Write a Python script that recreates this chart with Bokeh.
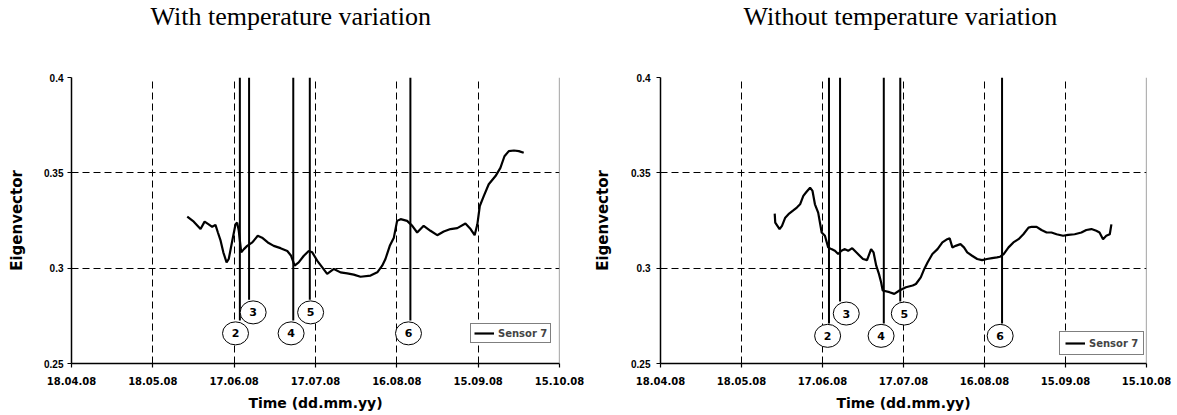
from bokeh.plotting import figure
from bokeh.models import Range1d, FixedTicker, Span, Legend, LegendItem, Title
from bokeh.layouts import row
from bokeh.embed import file_html
from bokeh.resources import INLINE
from bokeh.core.properties import value

# ---------------- data ----------------
# x values are days counted from 18.04.08
x_tick_days = [0, 30, 60, 90, 120, 150, 180]
x_tick_labels = ["18.04.08", "18.05.08", "17.06.08", "17.07.08", "16.08.08", "15.09.08", "15.10.08"]
y_ticks = [0.25, 0.3, 0.35, 0.4]
y_tick_labels = ["0.25", "0.3", "0.35", "0.4"]

titles = ["With temperature variation", "Without temperature variation"]
series_name = "Sensor 7"
x_title = "Time (dd.mm.yy)"
y_title = "Eigenvector"

with_days = [42.7, 45.1, 47.6, 49.1, 50.6, 51.9, 53.1, 54.0, 55.0, 56.0, 57.2, 58.0, 59.3, 60.5,
             61.1, 61.7, 62.6, 63.6, 64.8, 66.7, 68.7, 70.3, 72.4, 74.6, 77.1, 79.6, 81.0, 82.3,
             83.8, 85.7, 87.5, 88.8, 90.6, 92.5, 94.3, 96.8, 99.2, 101.7, 104.1, 106.6, 110.3,
             112.8, 114.6, 115.8, 117.4, 118.9, 120.1, 121.4, 123.8, 125.7, 127.5, 129.9, 132.4,
             134.9, 137.3, 139.8, 142.3, 145.3, 147.2, 148.7, 149.7, 150.6, 152.1, 153.9, 156.4,
             158.2, 159.7, 161.3, 163.2, 165.0, 166.8]
with_vals = [0.327, 0.3244, 0.3205, 0.3244, 0.323, 0.3217, 0.3227, 0.3187, 0.3144, 0.3083, 0.303,
             0.3048, 0.3144, 0.323, 0.3239, 0.3196, 0.3083, 0.31, 0.3117, 0.3135, 0.317, 0.316,
             0.3135, 0.3117, 0.3105, 0.309, 0.3065, 0.3013, 0.303, 0.3065, 0.309, 0.3083, 0.304,
             0.3004, 0.297, 0.2996, 0.2978, 0.2973, 0.2966, 0.2955, 0.2961, 0.2978, 0.3013, 0.3048,
             0.3117, 0.316, 0.3248, 0.3257, 0.3248, 0.3222, 0.3187, 0.3222, 0.3196, 0.3173, 0.3192,
             0.3205, 0.321, 0.3234, 0.3205, 0.3173, 0.323, 0.3326, 0.3379, 0.344, 0.3483, 0.3526,
             0.3587, 0.3614, 0.3617, 0.3614, 0.3605]

without_days = [42.3, 42.5, 44.1, 45.0, 46.2, 47.4, 49.3, 50.5, 51.7, 52.9, 54.1, 55.4, 56.3, 57.2,
                58.4, 59.7, 60.9, 62.1, 63.3, 64.6, 65.8, 67.0, 68.3, 69.5, 71.0, 72.5, 75.0, 76.5,
                78.0, 78.9, 79.9, 80.9, 81.7, 82.3, 84.8, 86.6, 88.5, 90.9, 93.4, 94.6, 96.4, 97.7,
                98.9, 100.7, 102.6, 104.4, 106.2, 107.1, 108.1, 109.3, 111.1, 112.4, 113.6, 115.4,
                117.3, 119.1, 120.9, 122.8, 124.6, 125.8, 127.1, 128.9, 130.7, 132.6, 134.4, 136.3,
                137.5, 139.3, 141.1, 143.0, 144.8, 146.7, 149.1, 151.0, 153.4, 155.9, 157.7, 159.6,
                161.4, 162.6, 163.9, 165.1, 166.4, 167.0]
without_vals = [0.3286, 0.3239, 0.3205, 0.3222, 0.3265, 0.3283, 0.3304, 0.3318, 0.3335, 0.3379,
                0.3401, 0.3422, 0.3405, 0.3335, 0.3291, 0.3187, 0.317, 0.3109, 0.31, 0.3091, 0.3074,
                0.3091, 0.31, 0.3091, 0.3105, 0.3083, 0.3048, 0.3042, 0.31, 0.3083, 0.3013, 0.297,
                0.2926, 0.2883, 0.2874, 0.2865, 0.2883, 0.29, 0.2909, 0.2917, 0.2952, 0.2996, 0.303,
                0.3074, 0.31, 0.3135, 0.3152, 0.3157, 0.3109, 0.3117, 0.3126, 0.3109, 0.3083, 0.3065,
                0.3048, 0.3042, 0.3048, 0.3053, 0.3057, 0.306, 0.3074, 0.3109, 0.3135, 0.3152,
                0.3178, 0.3213, 0.3217, 0.3217, 0.32, 0.3187, 0.3187, 0.3178, 0.317, 0.3175, 0.3178,
                0.3187, 0.32, 0.3205, 0.3196, 0.3187, 0.3152, 0.317, 0.3178, 0.323]

event_ids = ["2", "3", "4", "5", "6"]
with_event_days = [62.1, 65.5, 81.8, 87.9, 125.0]
with_event_ends = [0.2725, 0.2835, 0.2725, 0.2835, 0.2725]
with_label_days = [60.5, 67.0, 81.0, 88.2, 124.3]
with_label_vals = [0.2658, 0.2768, 0.2658, 0.2768, 0.2658]

without_event_days = [62.4, 66.5, 82.7, 88.8, 126.5]
without_event_ends = [0.271, 0.2825, 0.271, 0.2825, 0.271]
without_label_days = [61.9, 68.8, 81.7, 90.3, 125.8]
without_label_vals = [0.2645, 0.2762, 0.2645, 0.2762, 0.2645]

BOLD = value("DejaVu Sans")


def make_chart(title, days, vals, ev_days, ev_ends, lab_days, lab_vals, width,
               bl, br, title_offset, label_standoff, title_standoff, legend_loc, legend_pad):
    p = figure(width=width, height=413, output_backend="svg", toolbar_location=None,
               x_range=Range1d(x_tick_days[0], x_tick_days[-1]),
               y_range=Range1d(y_ticks[0], y_ticks[-1]),
               min_border_left=bl, min_border_right=br, min_border_top=76, min_border_bottom=50)
    p.outline_line_color = None
    p.background_fill_color = "white"

    # blank spacer between the frame and the chart title (pushes the title to the top)
    p.add_layout(Title(text=" ", text_font_size="10px", standoff=31), "above")

    p.title.text = title
    p.title.text_font = "Liberation Serif"
    p.title.text_font_style = "normal"
    p.title.text_font_size = "26px"
    p.title.text_color = "black"
    p.title.align = "left"
    p.title.vertical_align = "top"
    p.title.offset = title_offset
    p.title.standoff = 2

    # axes
    p.xaxis.ticker = FixedTicker(ticks=x_tick_days)
    p.xaxis.major_label_overrides = {d: l for d, l in zip(x_tick_days, x_tick_labels)}
    p.yaxis.ticker = FixedTicker(ticks=y_ticks)
    p.yaxis.major_label_overrides = {v: l for v, l in zip(y_ticks, y_tick_labels)}
    for ax in (p.xaxis, p.yaxis):
        ax.axis_line_color = "black"
        ax.axis_line_width = 1.5
        ax.major_tick_line_color = "black"
        ax.major_tick_line_width = 1.2
        ax.major_tick_in = 0
        ax.major_tick_out = 4
        ax.minor_tick_line_color = None
        ax.major_label_text_font_style = "bold"
        ax.major_label_text_font_size = "10px"
        ax.major_label_text_color = "black"
        ax.axis_label_text_font = "DejaVu Sans"
        ax.axis_label_text_font_style = "bold"
        ax.axis_label_text_color = "black"
    p.xaxis.axis_label_text_font_size = "14px"
    p.yaxis.axis_label_text_font_size = "15px"
    p.xaxis.major_label_text_font = "DejaVu Sans"
    p.yaxis.major_label_text_font = "Liberation Sans"
    p.xaxis.axis_label = x_title
    p.yaxis.axis_label = y_title
    p.xaxis.major_label_standoff = 9
    p.xaxis.axis_label_standoff = 7
    p.yaxis.major_label_standoff = label_standoff
    p.yaxis.axis_label_standoff = title_standoff

    # grid
    p.xgrid.ticker = FixedTicker(ticks=x_tick_days[1:-1])
    p.ygrid.ticker = FixedTicker(ticks=y_ticks[1:])
    for g in (p.xgrid, p.ygrid):
        g.grid_line_color = "black"
        g.grid_line_dash = "7 4"
        g.grid_line_width = 1

    p.add_layout(Span(location=x_tick_days[-1], dimension="height",
                      line_color="#666666", line_width=1.2))

    # event markers
    p.segment(x0=ev_days, y0=[y_ticks[-1]] * len(ev_days), x1=ev_days, y1=ev_ends,
              line_color="black", line_width=2)
    p.ellipse(x=lab_days, y=lab_vals, width=26, height=23, width_units="screen",
              height_units="screen", fill_color="white", line_color="black", line_width=1)
    p.text(x=lab_days, y=lab_vals, text=event_ids, text_font=BOLD, text_font_style="bold",
           text_font_size="11px", text_align="center", text_baseline="middle", text_color="black")

    # series
    r = p.line(days, vals, line_color="black", line_width=2.2)

    legend = Legend(items=[LegendItem(label=series_name, renderers=[r])], location=legend_loc)
    legend.border_line_color = "black"
    legend.border_line_width = 1
    legend.background_fill_color = "white"
    legend.background_fill_alpha = 1
    legend.label_text_font = "DejaVu Sans"
    legend.label_text_font_style = "bold"
    legend.label_text_font_size = "10px"
    legend.glyph_width = 20
    legend.glyph_height = 12
    legend.label_height = 12
    legend.label_standoff = 4
    legend.padding = legend_pad
    legend.spacing = 0
    legend.margin = 0
    p.add_layout(legend)
    return p


p1 = make_chart(titles[0], with_days, with_vals, with_event_days, with_event_ends,
                with_label_days, with_label_vals, 591, 71, 32, 79, 4, 15, (399, 20), 3)
p2 = make_chart(titles[1], without_days, without_vals, without_event_days, without_event_ends,
                without_label_days, without_label_vals, 582, 65, 27, 83, 6, 16, (399, 8), 5)

layout = row(p1, p2)
open("out.html", "w").write(file_html(layout, INLINE))
